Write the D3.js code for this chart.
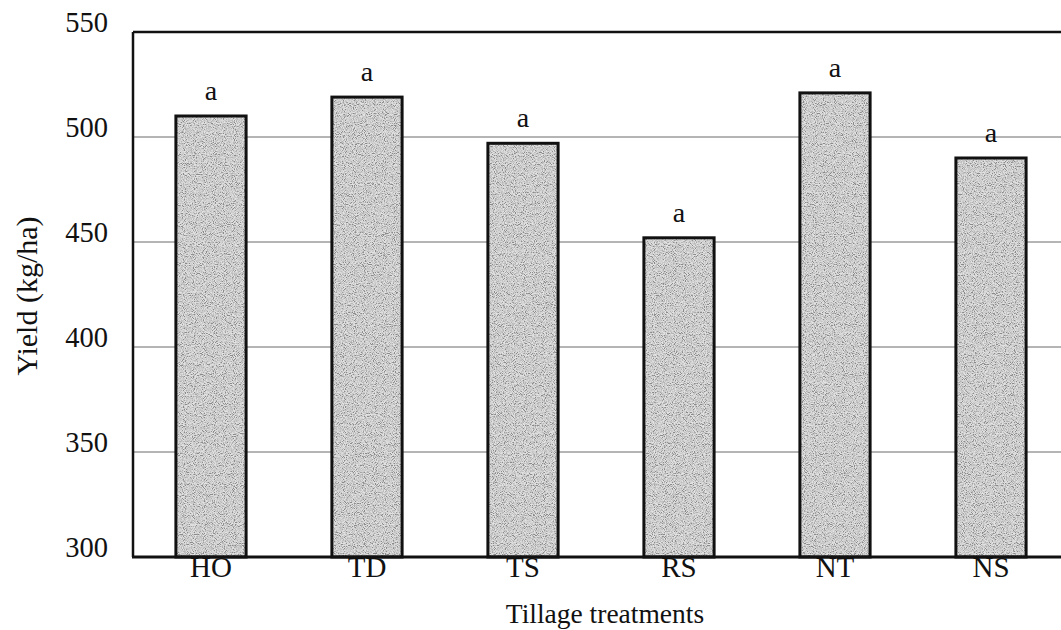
<!DOCTYPE html>
<html>
<head>
<meta charset="utf-8">
<script src="https://cdn.jsdelivr.net/npm/d3@7"></script>
<style>
  html, body { margin: 0; padding: 0; background: #fff; }
  svg { display: block; }
  text { font-family: "Liberation Serif", "Times New Roman", serif; fill: #111; }
</style>
</head>
<body>
<svg id="chart" width="1061" height="630"></svg>
<script>
// Yield by tillage treatment
const categories = ["HO", "TD", "TS", "RS", "NT", "NS"];
const yields = [510, 519, 497, 452, 521, 490];
const groupLetters = ["a", "a", "a", "a", "a", "a"];
const yTicks = [300, 350, 400, 450, 500, 550];

const svg = d3.select("#chart");
const margin = { left: 133, top: 32, right: -8, bottom: 73 };
const W = 1061, H = 630;
const plotRight = W - margin.right;
const plotBottom = H - margin.bottom;

// speckled halftone grain for the bar fill
const defs = svg.append("defs");
const grain = defs.append("filter").attr("id", "grain")
  .attr("x", 0).attr("y", 0).attr("width", 1).attr("height", 1);
grain.append("feTurbulence")
  .attr("type", "fractalNoise").attr("baseFrequency", 1.1)
  .attr("numOctaves", 1).attr("seed", 7).attr("result", "noise");
grain.append("feColorMatrix")
  .attr("in", "noise").attr("type", "matrix")
  .attr("values", "3 0 0 0 -1  3 0 0 0 -1  3 0 0 0 -1  0 0 0 0 1")
  .attr("result", "gray");
grain.append("feComposite")
  .attr("in", "gray").attr("in2", "SourceGraphic").attr("operator", "in");

const x = d3.scaleBand()
  .domain(categories)
  .range([margin.left, plotRight])
  .paddingInner(0.55)
  .paddingOuter(0.275);

const y = d3.scaleLinear()
  .domain([300, 550])
  .range([plotBottom, margin.top]);

// horizontal gridlines
svg.append("g")
  .selectAll("line")
  .data(yTicks.filter(t => t > 300 && t < 550))
  .join("line")
  .attr("x1", margin.left)
  .attr("x2", plotRight)
  .attr("y1", d => y(d))
  .attr("y2", d => y(d))
  .attr("stroke", "#6a6a6a")
  .attr("stroke-width", 1);

// y tick labels, baseline sitting on the tick value
const yAxis = d3.axisLeft(y).tickValues(yTicks).tickSize(0).tickPadding(25);
const gy = svg.append("g")
  .attr("transform", `translate(${margin.left},0)`)
  .call(yAxis);
gy.select(".domain").remove();
gy.selectAll("text")
  .attr("dy", "-1")
  .style("font-family", '"Liberation Serif", serif')
  .style("font-size", "28.5px")
  .attr("fill", "#111");

// bars: light base, grain overlay, dark outline
const bars = svg.append("g");
bars.selectAll("rect.base")
  .data(categories)
  .join("rect")
  .attr("class", "base")
  .attr("x", d => x(d))
  .attr("width", x.bandwidth())
  .attr("y", (d, i) => y(yields[i]))
  .attr("height", (d, i) => y(300) - y(yields[i]))
  .attr("fill", "#d6d6d6");
bars.selectAll("rect.grain")
  .data(categories)
  .join("rect")
  .attr("class", "grain")
  .attr("x", d => x(d))
  .attr("width", x.bandwidth())
  .attr("y", (d, i) => y(yields[i]))
  .attr("height", (d, i) => y(300) - y(yields[i]))
  .attr("fill", "#000")
  .attr("filter", "url(#grain)")
  .attr("opacity", 0.35);
bars.selectAll("rect.edge")
  .data(categories)
  .join("rect")
  .attr("class", "edge")
  .attr("x", d => x(d))
  .attr("width", x.bandwidth())
  .attr("y", (d, i) => y(yields[i]))
  .attr("height", (d, i) => y(300) - y(yields[i]))
  .attr("fill", "none")
  .attr("stroke", "#111")
  .attr("stroke-width", 3);

// significance letters
svg.append("g")
  .selectAll("text")
  .data(categories)
  .join("text")
  .attr("x", d => x(d) + x.bandwidth() / 2)
  .attr("y", (d, i) => y(yields[i]) - 16)
  .attr("text-anchor", "middle")
  .style("font-size", "28px")
  .text((d, i) => groupLetters[i]);

// frame: left, top
svg.append("line")
  .attr("x1", margin.left).attr("x2", margin.left)
  .attr("y1", margin.top).attr("y2", plotBottom)
  .attr("stroke", "#111").attr("stroke-width", 2.5);
svg.append("line")
  .attr("x1", margin.left).attr("x2", plotRight)
  .attr("y1", margin.top).attr("y2", margin.top)
  .attr("stroke", "#111").attr("stroke-width", 2.5);

// x axis with category labels
const xAxis = d3.axisBottom(x).tickSize(0).tickPadding(0);
const gx = svg.append("g")
  .attr("transform", `translate(0,${plotBottom})`)
  .call(xAxis);
gx.select(".domain").attr("stroke", "#111").attr("stroke-width", 3)
  .attr("d", `M${margin.left - 1},0H${plotRight}`);
gx.selectAll("text")
  .attr("dy", "0.7em")
  .style("font-family", '"Liberation Serif", serif')
  .style("font-size", "29px")
  .attr("fill", "#111");

// axis titles
svg.append("text")
  .attr("x", 605)
  .attr("y", 623)
  .attr("text-anchor", "middle")
  .style("font-size", "27.5px")
  .text("Tillage treatments");

svg.append("text")
  .attr("transform", "translate(37,296) rotate(-90)")
  .attr("text-anchor", "middle")
  .style("font-size", "30px")
  .text("Yield (kg/ha)");
</script>
</body>
</html>
